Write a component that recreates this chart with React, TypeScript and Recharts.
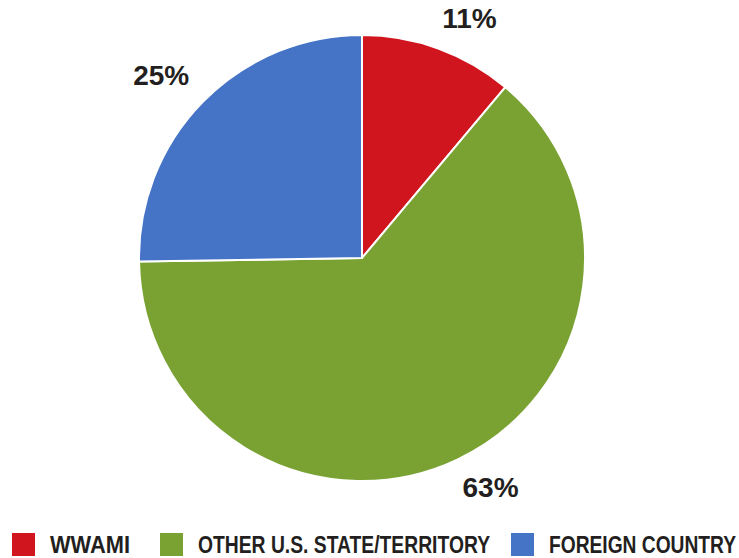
import React from 'react';
import { PieChart, Pie, Cell, Legend } from 'recharts';

const categories = ['WWAMI', 'OTHER U.S. STATE/TERRITORY', 'FOREIGN COUNTRY'];
const shares = [11, 63, 25];
const colors = ['#d0151e', '#79a233', '#4574c6'];

// legend text is a condensed face; squeeze each label to its measured width
const legendTextWidths = [80, 292, 187];
const legendGaps = [30, 21, 0];

const data = categories.map((name, i) => ({ name, value: shares[i] }));

const RAD = Math.PI / 180;

// outside-end label: anchor point just past the rim, box pushed outward
const renderLabel = (props: any) => {
  const { cx, cy, midAngle, outerRadius, value } = props;
  const r = outerRadius + 18;
  const cos = Math.cos(-midAngle * RAD);
  const sin = Math.sin(-midAngle * RAD);
  const x = cx + r * cos + (cos >= 0 ? 25 : -29);
  const y = cy + r * sin + (sin >= 0 ? 12 : -13);
  return (
    <text
      x={x}
      y={y}
      fill="#231f20"
      textAnchor="middle"
      dominantBaseline="central"
      fontFamily="'Liberation Sans', Arial, sans-serif"
      fontWeight="bold"
      fontSize={28}
    >
      {`${value}%`}
    </text>
  );
};

const LegendRow = () => {
  let x = 12;
  const items = data.map((d, i) => {
    const sq = x;
    const tx = sq + 23 + 15;
    x = tx + legendTextWidths[i] + legendGaps[i];
    return (
      <g key={d.name}>
        <rect x={sq} y={0} width={23} height={23} fill={colors[i]} />
        <text
          x={tx}
          y={20}
          textLength={legendTextWidths[i]}
          lengthAdjust="spacingAndGlyphs"
          fontFamily="'Liberation Sans', Arial, sans-serif"
          fontWeight="bold"
          fontSize={23}
          fill="#231f20"
        >
          {d.name}
        </text>
      </g>
    );
  });
  return (
    <svg width={739} height={25} style={{ display: 'block' }}>
      {items}
    </svg>
  );
};

export default function App() {
  return (
    <div style={{ position: 'absolute', left: 0, top: 0, width: 739, height: 558, background: '#fff' }}>
      <PieChart width={739} height={558} margin={{ top: 0, right: 0, bottom: 0, left: 0 }}>
        <Pie
          data={data}
          dataKey="value"
          nameKey="name"
          cx={362}
          cy={258}
          outerRadius={223}
          startAngle={90}
          endAngle={-270}
          stroke="#ffffff"
          strokeWidth={2}
          label={renderLabel}
          labelLine={false}
          isAnimationActive={false}
        >
          {data.map((d, i) => (
            <Cell key={d.name} fill={colors[i]} />
          ))}
        </Pie>
        <Legend
          content={<LegendRow />}
          wrapperStyle={{ position: 'absolute', left: 0, top: 533, width: 739 }}
        />
      </PieChart>
    </div>
  );
}
